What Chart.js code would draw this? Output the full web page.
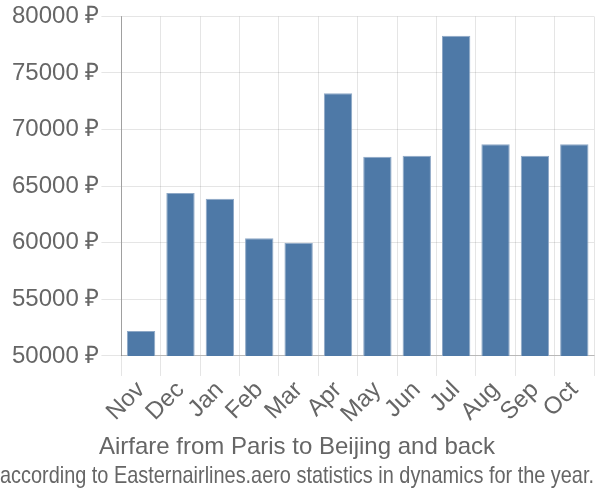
<!DOCTYPE html>
<html>
<head>
<meta charset="utf-8">
<script src="https://cdn.jsdelivr.net/npm/chart.js@4/dist/chart.umd.min.js"></script>
<style>
html,body{margin:0;padding:0;background:#fff;}
#wrap{width:600px;height:500px;}
</style>
</head>
<body>
<div id="wrap"><canvas id="c" width="600" height="500"></canvas></div>
<script>
const months = ["Nov","Dec","Jan","Feb","Mar","Apr","May","Jun","Jul","Aug","Sep","Oct"];
const prices = [52200,64400,63900,60400,60000,73200,67600,67700,78300,68700,67700,68700];
const yMin = 50000;
const yMax = 80000;
const yStep = 5000;
const currency = " ₽";
const titleText = "Airfare from Paris to Beijing and back";
const subtitleText = "according to Easternairlines.aero statistics in dynamics for the year.";

Chart.defaults.font.family = "'Liberation Sans', Arial, sans-serif";
Chart.defaults.color = "#666";

new Chart(document.getElementById('c'), {
  type: 'bar',
  data: {
    labels: months,
    datasets: [{
      data: prices,
      backgroundColor: '#4e79a7',
      borderColor: '#8ea8c6',
      borderWidth: 1
    }]
  },
  options: {
    responsive: false,
    animation: false,
    layout: { padding: { top: 2, right: 6, left: 0, bottom: 0 } },
    plugins: {
      legend: { display: false },
      tooltip: { enabled: false },
      title: {
        display: true, text: titleText, position: 'bottom', weight: 900,
        font: { size: 24, weight: 'normal' }, color: '#666',
        padding: { top: 5, bottom: 0 }
      },
      subtitle: {
        display: true, text: subtitleText, position: 'bottom', weight: 1000,
        font: { size: 24, weight: 'normal' }, color: '#666',
        padding: { top: 0, bottom: 9 }
      }
    },
    scales: {
      x: {
        grid: { color: 'rgba(0,0,0,0.1)', tickLength: 20, offset: true },
        border: { color: 'rgba(0,0,0,0.2)' },
        ticks: { font: { size: 24 }, color: '#666', maxRotation: 45, minRotation: 45, padding: 0, autoSkip: false }
      },
      y: {
        min: yMin, max: yMax,
        afterFit: s => { s.width += 10; },
        grid: { color: 'rgba(0,0,0,0.1)', tickLength: 20 },
        border: { color: 'rgba(0,0,0,0.3)' },
        ticks: { stepSize: yStep, font: { size: 24 }, color: '#666', padding: 2,
          callback: v => v + currency }
      }
    }
  }
});
</script>
</body>
</html>
